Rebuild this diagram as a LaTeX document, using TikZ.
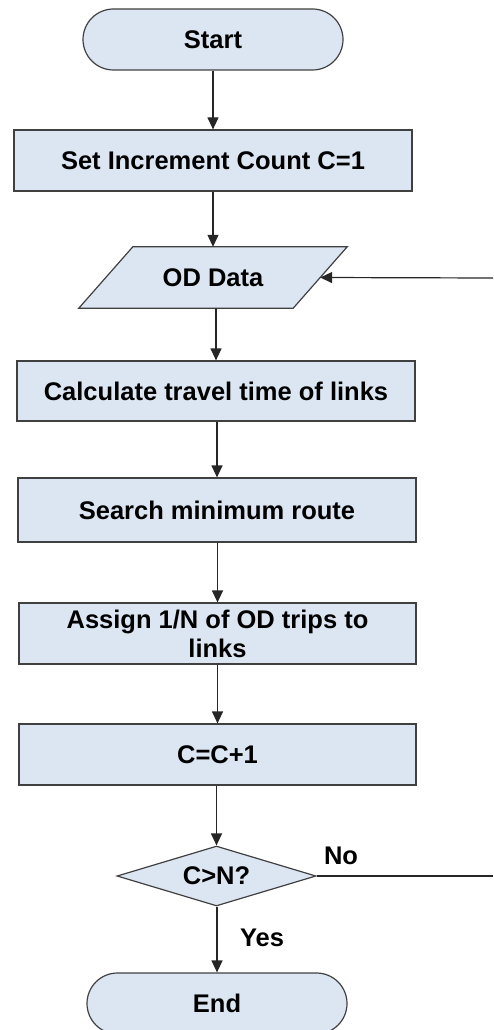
\documentclass[tikz,border=0pt]{standalone}
\usepackage{fontspec}
\setmainfont{Liberation Sans}
\usetikzlibrary{shapes.misc,shapes.geometric,arrows.meta,backgrounds,calc}
\definecolor{boxfill}{RGB}{220,230,242}
\definecolor{boxline}{RGB}{64,64,64}
\definecolor{arrline}{RGB}{38,38,38}
\tikzset{
  base/.style={fill=boxfill, draw=boxline, line width=1.2pt, text=black,
    font=\fontsize{25.5}{29}\selectfont\bfseries, inner sep=0pt, align=center},
  procbox/.style={base, rectangle, minimum width=398pt, minimum height=61pt},
  termbox/.style={base, rounded rectangle, minimum width=260pt, minimum height=61pt},
  decbox/.style={base, diamond, aspect=3.3, minimum width=199pt, minimum height=60pt},
  iobox/.style={font=\fontsize{25.5}{29}\selectfont\bfseries, inner sep=0pt,
    minimum width=214pt, minimum height=61pt},
  lbl/.style={font=\fontsize{25.5}{29}\selectfont\bfseries, inner sep=0pt},
  arr/.style={draw=arrline, line width=1.2pt, -{Triangle[length=12pt,width=11pt]}},
  plain/.style={draw=arrline, line width=1.2pt},
}
\begin{document}
\begin{tikzpicture}[x=1pt,y=-1pt]
\useasboundingbox (0,0) rectangle (493,1030);
\clip (0,0) rectangle (493,1030);
\node[termbox] (start) at (213,39.5) {Start};
\node[procbox] (set) at (213,160.5) {Set Increment Count C=1};
\node[iobox] (od) at (213,277.5) {OD Data};
\begin{scope}[on background layer]
\filldraw[fill=boxfill, draw=boxline, line width=1.2pt]
  ($(od.south west)+(-27pt,0)$) -- ($(od.north west)+(27pt,0)$) --
  ($(od.north east)+(27pt,0)$) -- ($(od.south east)+(-27pt,0)$) -- cycle;
\end{scope}
\node[procbox, minimum height=60pt] (calc) at (216,391) {Calculate travel time of links};
\node[procbox, minimum height=64pt] (search) at (217,510) {Search minimum route};
\node[procbox, minimum width=397pt] (assign) at (217.5,633.5) {Assign 1/N of OD trips to\\links};
\node[procbox, minimum width=397pt] (inc) at (217.5,754.5) {C=C+1};
\node[decbox] (dec) at (216.5,876) {C>N?};
\node[termbox] (end) at (217,1003.5) {End};
\node[lbl] (no) at (341,856) {No};
\node[lbl] (yes) at (262,938) {Yes};
\coordinate (rb) at (493,876);
\coordinate (rt) at (493,278);

\draw[arr] (start.south -| set.north) -- (set.north);
\draw[arr] (set.south -| od.north) -- (od.north);
\draw[arr] (od.south -| calc.north) -- (calc.north);
\draw[arr] (calc.south -| search.north) -- (search.north);
\draw[arr] (search.south -| assign.north) -- (assign.north);
\draw[arr] (assign.south -| inc.north) -- (inc.north);
\draw[arr] (inc.south -| dec.north) -- (dec.north);
\draw[arr] (dec.south -| end.north) -- (end.north);
\draw[plain] (dec.east) -- (rb);
\draw[arr] (rt) -- (od.east);
\end{tikzpicture}
\end{document}
